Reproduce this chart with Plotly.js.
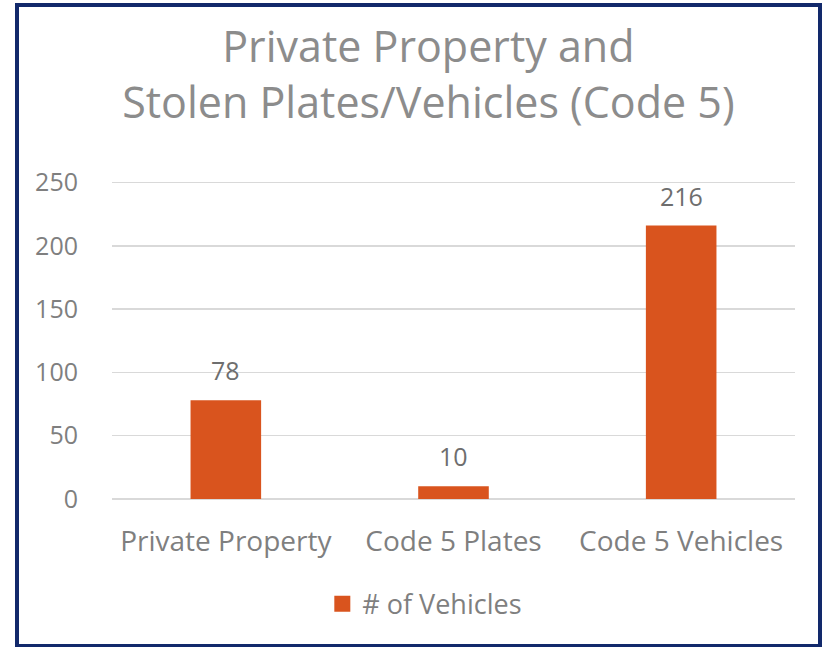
<!DOCTYPE html>
<html>
<head>
<meta charset="utf-8">
<script src="https://cdn.plot.ly/plotly-3.0.1.min.js"></script>
<style>
  html, body { margin: 0; padding: 0; background: #ffffff; }
  #wrap { position: relative; width: 827px; height: 647px; overflow: hidden; }
  #chart { position: absolute; left: 0; top: 0; width: 827px; height: 647px; }
  #frame { position: absolute; left: 15px; top: 3px; width: 807px; height: 645px;
           box-sizing: border-box; border: 4px solid #12296b; pointer-events: none; }
</style>
</head>
<body>
<div id="wrap">
  <div id="chart"></div>
  <div id="frame"></div>
</div>
<script>
const categories = ["Private Property", "Code 5 Plates", "Code 5 Vehicles"];
const vehicles = [78, 10, 216];
const seriesName = "# of Vehicles";
const yTicks = [0, 50, 100, 150, 200, 250];

const FONT = "Open Sans, Noto Sans, sans-serif";
const BAR_COLOR = "#d9541e";

const barTrace = {
  type: "bar",
  x: categories,
  y: vehicles,
  name: seriesName,
  marker: { color: BAR_COLOR },
  showlegend: false,
  legendgroup: "v",
  hoverinfo: "x+y"
};

// legend swatch (larger square than the default bar icon)
const legendTrace = {
  type: "scatter",
  mode: "markers",
  x: [categories[0]],
  y: [null],
  name: seriesName,
  legendgroup: "v",
  marker: { symbol: "square", size: 18, color: BAR_COLOR },
  hoverinfo: "skip"
};

const labels = categories.map((c, i) => ({
  x: c, y: vehicles[i], xref: "x", yref: "y",
  text: String(vehicles[i]), showarrow: false,
  yanchor: "bottom", yshift: 11,
  font: { family: FONT, size: 25, color: "#6e6e6e" }
}));

const layout = {
  width: 827, height: 647,
  paper_bgcolor: "#ffffff", plot_bgcolor: "#ffffff",
  margin: { l: 112, r: 32, t: 180, b: 148 },
  title: {
    text: "Private Property and<br>Stolen Plates/Vehicles (Code 5)",
    font: { family: FONT, size: 43, color: "#8c8c8c" },
    x: 0.518, xanchor: "center", xref: "container",
    y: 1 - 62 / 647, yanchor: "middle", yref: "container"
  },
  bargap: 0.69,
  showlegend: true,
  legend: {
    orientation: "h", x: 0.458, xanchor: "center", y: -0.33, yanchor: "middle",
    font: { family: FONT, size: 27, color: "#7f7f7f" },
    itemwidth: 30
  },
  xaxis: {
    type: "category",
    tickfont: { family: FONT, size: 28, color: "#7f7f7f" },
    showgrid: false, zeroline: false, showline: false,
    ticks: "outside", ticklen: 17, tickcolor: "rgba(0,0,0,0)"
  },
  yaxis: {
    range: [0, 252],
    tickvals: yTicks,
    ticktext: yTicks.map(String),
    tickfont: { family: FONT, size: 25, color: "#7f7f7f" },
    showgrid: true, gridcolor: "#d9d9d9", gridwidth: 1.5,
    zeroline: true, zerolinecolor: "#d9d9d9", zerolinewidth: 1.5,
    showline: false,
    ticks: "outside", ticklen: 28, tickcolor: "rgba(0,0,0,0)"
  },
  annotations: labels
};

Plotly.newPlot("chart", [barTrace, legendTrace], layout, { displayModeBar: false, staticPlot: true });
</script>
</body>
</html>
